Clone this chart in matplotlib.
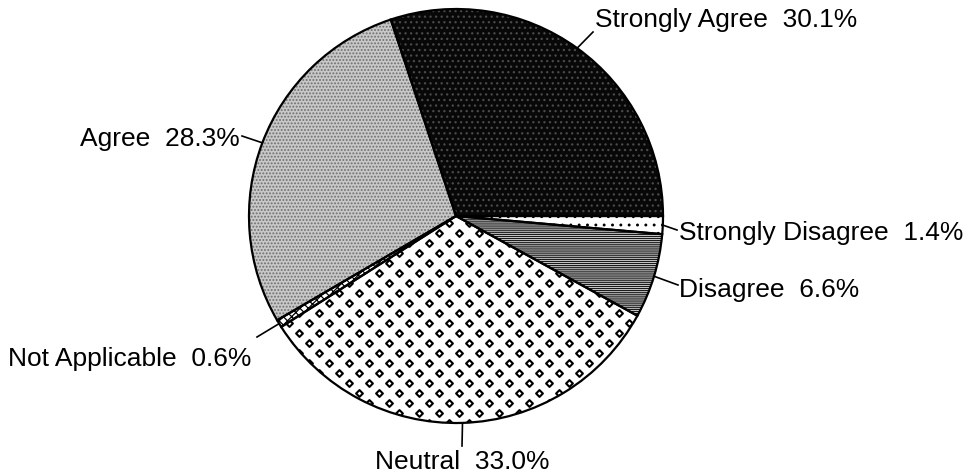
import numpy as np
import matplotlib
matplotlib.use("Agg")
import matplotlib.pyplot as plt
from matplotlib.patches import Wedge

# Survey response shares (percent), drawn counter-clockwise from 3 o'clock
categories = ["Strongly Agree", "Agree", "Not Applicable", "Neutral",
              "Disagree", "Strongly Disagree"]
shares = [30.1, 28.3, 0.6, 33.0, 6.6, 1.4]

W, H = 974, 476
plt.rcParams["hatch.linewidth"] = 0.9
plt.rcParams["font.family"] = ["Liberation Sans", "DejaVu Sans"]

fig = plt.figure(figsize=(W / 100, H / 100), dpi=100)
ax = fig.add_axes([0, 0, 1, 1])

cx, cy, r = 456, H - 216, 207

wedges, _ = ax.pie(shares, center=(cx, cy), radius=r, startangle=0,
                   counterclock=True)
ax.set_xlim(0, W)
ax.set_ylim(0, H)
ax.set_aspect("equal")
ax.axis("off")

# fill style per slice: face colour, hatch, hatch colour
fills = {
    "Strongly Agree": ("#080808", "...", "#4a4a4a"),
    "Agree": ("#c8c8c8", ".....", "#6e6e6e"),
    "Not Applicable": ("white", "xxxx", "black"),
    "Neutral": ("white", None, "white"),
    "Disagree": ("#e4e4e4", "--------", "#1a1a1a"),
    "Strongly Disagree": ("white", "..", "black"),
}

for name, w in zip(categories, wedges):
    fc, hatch, hc = fills[name]
    w.set_facecolor(fc)
    w.set_edgecolor(hc)
    w.set_linewidth(0)
    if hatch:
        w.set_hatch(hatch)
    outline = Wedge((cx, cy), r, w.theta1, w.theta2, facecolor="none",
                    edgecolor="black", linewidth=1.6, zorder=5)
    ax.add_patch(outline)

# diamond dot texture on the Neutral slice
neutral = wedges[categories.index("Neutral")]
gx, gy = np.meshgrid(np.arange(cx - r, cx + r, 20.0),
                     np.arange(cy - r, cy + r, 10.0))
gx = gx + (np.arange(gx.shape[0])[:, None] % 2) * 10
ax.scatter(gx.ravel(), gy.ravel(), marker="D", s=12, facecolor="white",
           edgecolor="black", linewidths=1.5, clip_path=neutral, zorder=3)

# label layout: text anchor (px from top-left), alignment, leader-line end
labels = {
    "Strongly Agree": ((595, 27), "left", (593, 32)),
    "Agree": ((240, 146), "right", (242, 136)),
    "Strongly Disagree": ((679, 240), "left", (677, 230)),
    "Disagree": ((679, 297), "left", (678, 285)),
    "Not Applicable": ((251, 366), "right", (257, 337)),
    "Neutral": ((462, 469), "center", (462, 446)),
}

for name, val, w in zip(categories, shares, wedges):
    (tx, ty), ha, (lx, ly) = labels[name]
    ang = 0.5 * (w.theta1 + w.theta2)
    ex = cx + r * np.cos(np.radians(ang))
    ey = cy + r * np.sin(np.radians(ang))
    ax.plot([ex, lx], [ey, H - ly], color="black", lw=1.2, zorder=6)
    ax.text(tx, H - ty, f"{name}  {val:.1f}%", ha=ha, va="baseline",
            fontsize=19, color="black")

fig.savefig("out.png", dpi=100, facecolor="white")
